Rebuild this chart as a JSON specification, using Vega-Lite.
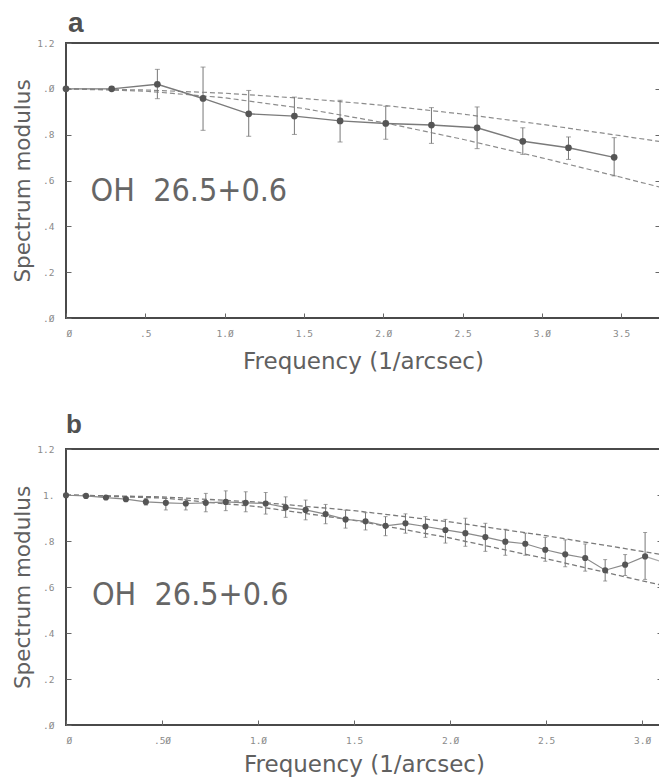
{
  "$schema": "https://vega.github.io/schema/vega-lite/v6.json",
  "background": "white",
  "padding": {"left": 11, "top": 9, "right": 0, "bottom": 0},
  "spacing": 36,
  "config": {
    "view": {"stroke": "#4a4a4a", "strokeWidth": 2},
    "axis": {
      "labelFont": "DejaVu Sans Mono", "labelFontSize": 9.5, "labelColor": "#8a8a8a",
      "tickColor": "#666666", "tickSize": -5, "tickWidth": 1, "labelPadding": 17, "domain": false, "grid": false,
      "titleFont": "DejaVu Sans", "titleFontWeight": "normal", "titleColor": "#606060", "titleFontSize": 23
    },
    "title": {"anchor": "start", "frame": "group", "font": "Liberation Sans", "fontWeight": "bold", "color": "#505050", "fontSize": 28}
  },
  "datasets": {
    "a_pts": [
      {"f": 0, "v": 1.0},
      {"f": 0.288, "v": 1.0},
      {"f": 0.576, "v": 1.02, "lo": 0.957, "hi": 1.085},
      {"f": 0.864, "v": 0.958, "lo": 0.819, "hi": 1.095},
      {"f": 1.152, "v": 0.891, "lo": 0.793, "hi": 0.993},
      {"f": 1.44, "v": 0.881, "lo": 0.801, "hi": 0.964},
      {"f": 1.728, "v": 0.86, "lo": 0.768, "hi": 0.95},
      {"f": 2.016, "v": 0.849, "lo": 0.78, "hi": 0.924},
      {"f": 2.304, "v": 0.842, "lo": 0.762, "hi": 0.918},
      {"f": 2.592, "v": 0.83, "lo": 0.739, "hi": 0.921},
      {"f": 2.88, "v": 0.771, "lo": 0.714, "hi": 0.83},
      {"f": 3.168, "v": 0.743, "lo": 0.692, "hi": 0.79},
      {"f": 3.456, "v": 0.701, "lo": 0.62, "hi": 0.787}
    ],
    "a_fit": [
      {"fit": "upper", "f": 0, "v": 1.0}, {"fit": "upper", "f": 0.5, "v": 0.995}, {"fit": "upper", "f": 1, "v": 0.981},
      {"fit": "upper", "f": 1.5, "v": 0.958}, {"fit": "upper", "f": 2, "v": 0.928}, {"fit": "upper", "f": 2.5, "v": 0.89},
      {"fit": "upper", "f": 3, "v": 0.845}, {"fit": "upper", "f": 3.5, "v": 0.795}, {"fit": "upper", "f": 3.745, "v": 0.77},
      {"fit": "lower", "f": 0, "v": 1.0}, {"fit": "lower", "f": 0.5, "v": 0.99}, {"fit": "lower", "f": 1, "v": 0.961},
      {"fit": "lower", "f": 1.5, "v": 0.914}, {"fit": "lower", "f": 2, "v": 0.853}, {"fit": "lower", "f": 2.5, "v": 0.78},
      {"fit": "lower", "f": 3, "v": 0.699}, {"fit": "lower", "f": 3.5, "v": 0.614}, {"fit": "lower", "f": 3.745, "v": 0.571}
    ],
    "b_pts": [
      {"f": 0, "v": 0.999},
      {"f": 0.104, "v": 0.996},
      {"f": 0.208, "v": 0.989},
      {"f": 0.312, "v": 0.982},
      {"f": 0.416, "v": 0.97, "lo": 0.956, "hi": 0.985},
      {"f": 0.52, "v": 0.966, "lo": 0.935, "hi": 0.985},
      {"f": 0.624, "v": 0.963, "lo": 0.935, "hi": 0.981},
      {"f": 0.728, "v": 0.966, "lo": 0.927, "hi": 1.007},
      {"f": 0.832, "v": 0.97, "lo": 0.932, "hi": 1.018},
      {"f": 0.936, "v": 0.966, "lo": 0.927, "hi": 1.014},
      {"f": 1.04, "v": 0.963, "lo": 0.917, "hi": 1.011},
      {"f": 1.144, "v": 0.946, "lo": 0.903, "hi": 0.992},
      {"f": 1.248, "v": 0.935, "lo": 0.892, "hi": 0.978},
      {"f": 1.352, "v": 0.917, "lo": 0.875, "hi": 0.959},
      {"f": 1.456, "v": 0.894, "lo": 0.856, "hi": 0.934},
      {"f": 1.56, "v": 0.886, "lo": 0.848, "hi": 0.923},
      {"f": 1.664, "v": 0.866, "lo": 0.823, "hi": 0.906},
      {"f": 1.768, "v": 0.877, "lo": 0.834, "hi": 0.918},
      {"f": 1.872, "v": 0.863, "lo": 0.816, "hi": 0.906},
      {"f": 1.976, "v": 0.848, "lo": 0.791, "hi": 0.894},
      {"f": 2.08, "v": 0.834, "lo": 0.777, "hi": 0.899},
      {"f": 2.184, "v": 0.817, "lo": 0.755, "hi": 0.877},
      {"f": 2.288, "v": 0.797, "lo": 0.738, "hi": 0.851},
      {"f": 2.392, "v": 0.788, "lo": 0.738, "hi": 0.834},
      {"f": 2.496, "v": 0.762, "lo": 0.712, "hi": 0.816},
      {"f": 2.6, "v": 0.742, "lo": 0.688, "hi": 0.805},
      {"f": 2.704, "v": 0.726, "lo": 0.669, "hi": 0.787},
      {"f": 2.808, "v": 0.673, "lo": 0.626, "hi": 0.719},
      {"f": 2.912, "v": 0.697, "lo": 0.65, "hi": 0.741},
      {"f": 3.016, "v": 0.733, "lo": 0.633, "hi": 0.837}
    ],
    "b_tail": [
      {"f": 3.016, "v": 0.733},
      {"f": 3.104, "v": 0.71}
    ],
    "b_fit": [
      {"fit": "upper", "f": 0, "v": 1.0}, {"fit": "upper", "f": 0.5, "v": 0.992}, {"fit": "upper", "f": 1, "v": 0.969},
      {"fit": "upper", "f": 1.5, "v": 0.932}, {"fit": "upper", "f": 2, "v": 0.883}, {"fit": "upper", "f": 2.5, "v": 0.823},
      {"fit": "upper", "f": 3, "v": 0.755}, {"fit": "upper", "f": 3.104, "v": 0.741},
      {"fit": "lower", "f": 0, "v": 1.0}, {"fit": "lower", "f": 0.5, "v": 0.987}, {"fit": "lower", "f": 1, "v": 0.949},
      {"fit": "lower", "f": 1.5, "v": 0.89}, {"fit": "lower", "f": 2, "v": 0.813}, {"fit": "lower", "f": 2.5, "v": 0.723},
      {"fit": "lower", "f": 3, "v": 0.627}, {"fit": "lower", "f": 3.104, "v": 0.608}
    ],
    "label": [
      {"f": 0.155, "v": 0.51, "t": "OH\u00a0\u00a026.5+0.6"}
    ],
    "label_b": [
      {"f": 0.135, "v": 0.52, "t": "OH\u00a0\u00a026.5+0.6"}
    ]
  },
  "vconcat": [
    {
      "title": {"text": "a", "offset": 0, "dx": 2},
      "width": 594,
      "height": 275,
      "resolve": {"axis": {"y": "independent"}},
      "layer": [
        {
          "data": {"name": "a_fit"},
          "mark": {"type": "line", "strokeDash": [5, 3], "color": "#8c8c8c", "strokeWidth": 1.2},
          "encoding": {
            "x": {"field": "f", "type": "quantitative", "scale": {"domain": [0, 3.745], "nice": false, "zero": false},
              "axis": {"title": "Frequency (1/arcsec)", "values": [0, 0.5, 1, 1.5, 2, 2.5, 3, 3.5],
                "labelExpr": "datum.value == 0 ? 'Ø' : datum.value == 0.5 ? '.5' : replace(format(datum.value, '.1f'), '0', 'Ø')",
                "labelPadding": 15, "titlePadding": 13}},
            "y": {"field": "v", "type": "quantitative", "scale": {"domain": [0, 1.2], "nice": false},
              "axis": {"title": "Spectrum modulus", "titleFontSize": 21.5, "values": [0, 0.2, 0.4, 0.6, 0.8, 1.0, 1.2],
                "labelExpr": "datum.value == 0 ? '.Ø' : datum.value == 1 ? '.Ø' : datum.value == 1.2 ? '1.2' : '.' + format(datum.value * 10, 'd')",
                "titlePadding": 2}},
            "detail": {"field": "fit"}
          }
        },
        {
          "data": {"name": "a_pts"},
          "transform": [{"filter": "isValid(datum.lo)"}],
          "mark": {"type": "rule", "color": "#777777", "strokeWidth": 1},
          "encoding": {
            "x": {"field": "f", "type": "quantitative"},
            "y": {"field": "lo", "type": "quantitative", "axis": null},
            "y2": {"field": "hi"}
          }
        },
        {
          "data": {"name": "a_pts"},
          "transform": [{"filter": "isValid(datum.lo)"}],
          "mark": {"type": "tick", "orient": "horizontal", "size": 5, "thickness": 1, "color": "#777777"},
          "encoding": {
            "x": {"field": "f", "type": "quantitative"},
            "y": {"field": "lo", "type": "quantitative", "axis": null}
          }
        },
        {
          "data": {"name": "a_pts"},
          "transform": [{"filter": "isValid(datum.hi)"}],
          "mark": {"type": "tick", "orient": "horizontal", "size": 5, "thickness": 1, "color": "#777777"},
          "encoding": {
            "x": {"field": "f", "type": "quantitative"},
            "y": {"field": "hi", "type": "quantitative", "axis": null}
          }
        },
        {
          "data": {"name": "a_pts"},
          "mark": {"type": "line", "color": "#7a7a7a", "strokeWidth": 1.4},
          "encoding": {
            "x": {"field": "f", "type": "quantitative"},
            "y": {"field": "v", "type": "quantitative", "axis": {"orient": "right", "labels": false, "title": null, "values": [0.2, 0.4, 0.6, 0.8, 1.0]}}
          }
        },
        {
          "data": {"name": "a_pts"},
          "mark": {"type": "point", "filled": true, "shape": "circle", "size": 45, "color": "#555555", "opacity": 1},
          "encoding": {
            "x": {"field": "f", "type": "quantitative"},
            "y": {"field": "v", "type": "quantitative", "axis": null}
          }
        },
        {
          "data": {"name": "label"},
          "mark": {"type": "text", "align": "left", "baseline": "alphabetic", "font": "DejaVu Sans Condensed, Roboto Condensed, Liberation Sans Narrow, DejaVu Sans", "fontSize": 32, "color": "#666666"},
          "encoding": {
            "x": {"field": "f", "type": "quantitative"},
            "y": {"field": "v", "type": "quantitative", "axis": null},
            "text": {"field": "t"}
          }
        }
      ]
    },
    {
      "title": {"text": "b", "offset": 6, "dx": 0, "fontSize": 26},
      "width": 596,
      "height": 276,
      "resolve": {"axis": {"y": "independent"}},
      "layer": [
        {
          "data": {"name": "b_fit"},
          "mark": {"type": "line", "strokeDash": [5, 3], "color": "#7a7a7a", "strokeWidth": 1.3},
          "encoding": {
            "x": {"field": "f", "type": "quantitative", "scale": {"domain": [0, 3.104], "nice": false, "zero": false},
              "axis": {"title": "Frequency (1/arcsec)", "values": [0, 0.5, 1, 1.5, 2, 2.5, 3],
                "labelExpr": "datum.value == 0 ? 'Ø' : datum.value == 0.5 ? '.5Ø' : replace(format(datum.value, '.1f'), '0', 'Ø')",
                "labelPadding": 15, "titlePadding": 9}},
            "y": {"field": "v", "type": "quantitative", "scale": {"domain": [0, 1.2], "nice": false},
              "axis": {"title": "Spectrum modulus", "titleFontSize": 21.5, "values": [0, 0.2, 0.4, 0.6, 0.8, 1.0, 1.2],
                "labelExpr": "datum.value == 0 ? '.Ø' : datum.value == 1 ? '1.' : datum.value == 1.2 ? '1.2' : '.' + format(datum.value * 10, 'd')",
                "titlePadding": 2}},
            "detail": {"field": "fit"}
          }
        },
        {
          "data": {"name": "b_pts"},
          "transform": [{"filter": "isValid(datum.lo)"}],
          "mark": {"type": "rule", "color": "#777777", "strokeWidth": 1},
          "encoding": {
            "x": {"field": "f", "type": "quantitative"},
            "y": {"field": "lo", "type": "quantitative", "axis": null},
            "y2": {"field": "hi"}
          }
        },
        {
          "data": {"name": "b_pts"},
          "transform": [{"filter": "isValid(datum.lo)"}],
          "mark": {"type": "tick", "orient": "horizontal", "size": 4, "thickness": 1, "color": "#777777"},
          "encoding": {
            "x": {"field": "f", "type": "quantitative"},
            "y": {"field": "lo", "type": "quantitative", "axis": null}
          }
        },
        {
          "data": {"name": "b_pts"},
          "transform": [{"filter": "isValid(datum.hi)"}],
          "mark": {"type": "tick", "orient": "horizontal", "size": 4, "thickness": 1, "color": "#777777"},
          "encoding": {
            "x": {"field": "f", "type": "quantitative"},
            "y": {"field": "hi", "type": "quantitative", "axis": null}
          }
        },
        {
          "data": {"name": "b_pts"},
          "mark": {"type": "line", "color": "#8a8a8a", "strokeWidth": 1.2},
          "encoding": {
            "x": {"field": "f", "type": "quantitative"},
            "y": {"field": "v", "type": "quantitative", "axis": {"orient": "right", "labels": false, "title": null, "values": [0.2, 0.4, 0.6, 0.8, 1.0]}}
          }
        },
        {
          "data": {"name": "b_tail"},
          "mark": {"type": "line", "color": "#aaaaaa", "strokeWidth": 1.2},
          "encoding": {
            "x": {"field": "f", "type": "quantitative"},
            "y": {"field": "v", "type": "quantitative", "axis": null}
          }
        },
        {
          "data": {"name": "b_pts"},
          "mark": {"type": "point", "filled": true, "shape": "circle", "size": 38, "color": "#555555", "opacity": 1},
          "encoding": {
            "x": {"field": "f", "type": "quantitative"},
            "y": {"field": "v", "type": "quantitative", "axis": null}
          }
        },
        {
          "data": {"name": "label_b"},
          "mark": {"type": "text", "align": "left", "baseline": "alphabetic", "font": "DejaVu Sans Condensed, Roboto Condensed, Liberation Sans Narrow, DejaVu Sans", "fontSize": 32, "color": "#666666"},
          "encoding": {
            "x": {"field": "f", "type": "quantitative"},
            "y": {"field": "v", "type": "quantitative", "axis": null},
            "text": {"field": "t"}
          }
        }
      ]
    }
  ]
}
